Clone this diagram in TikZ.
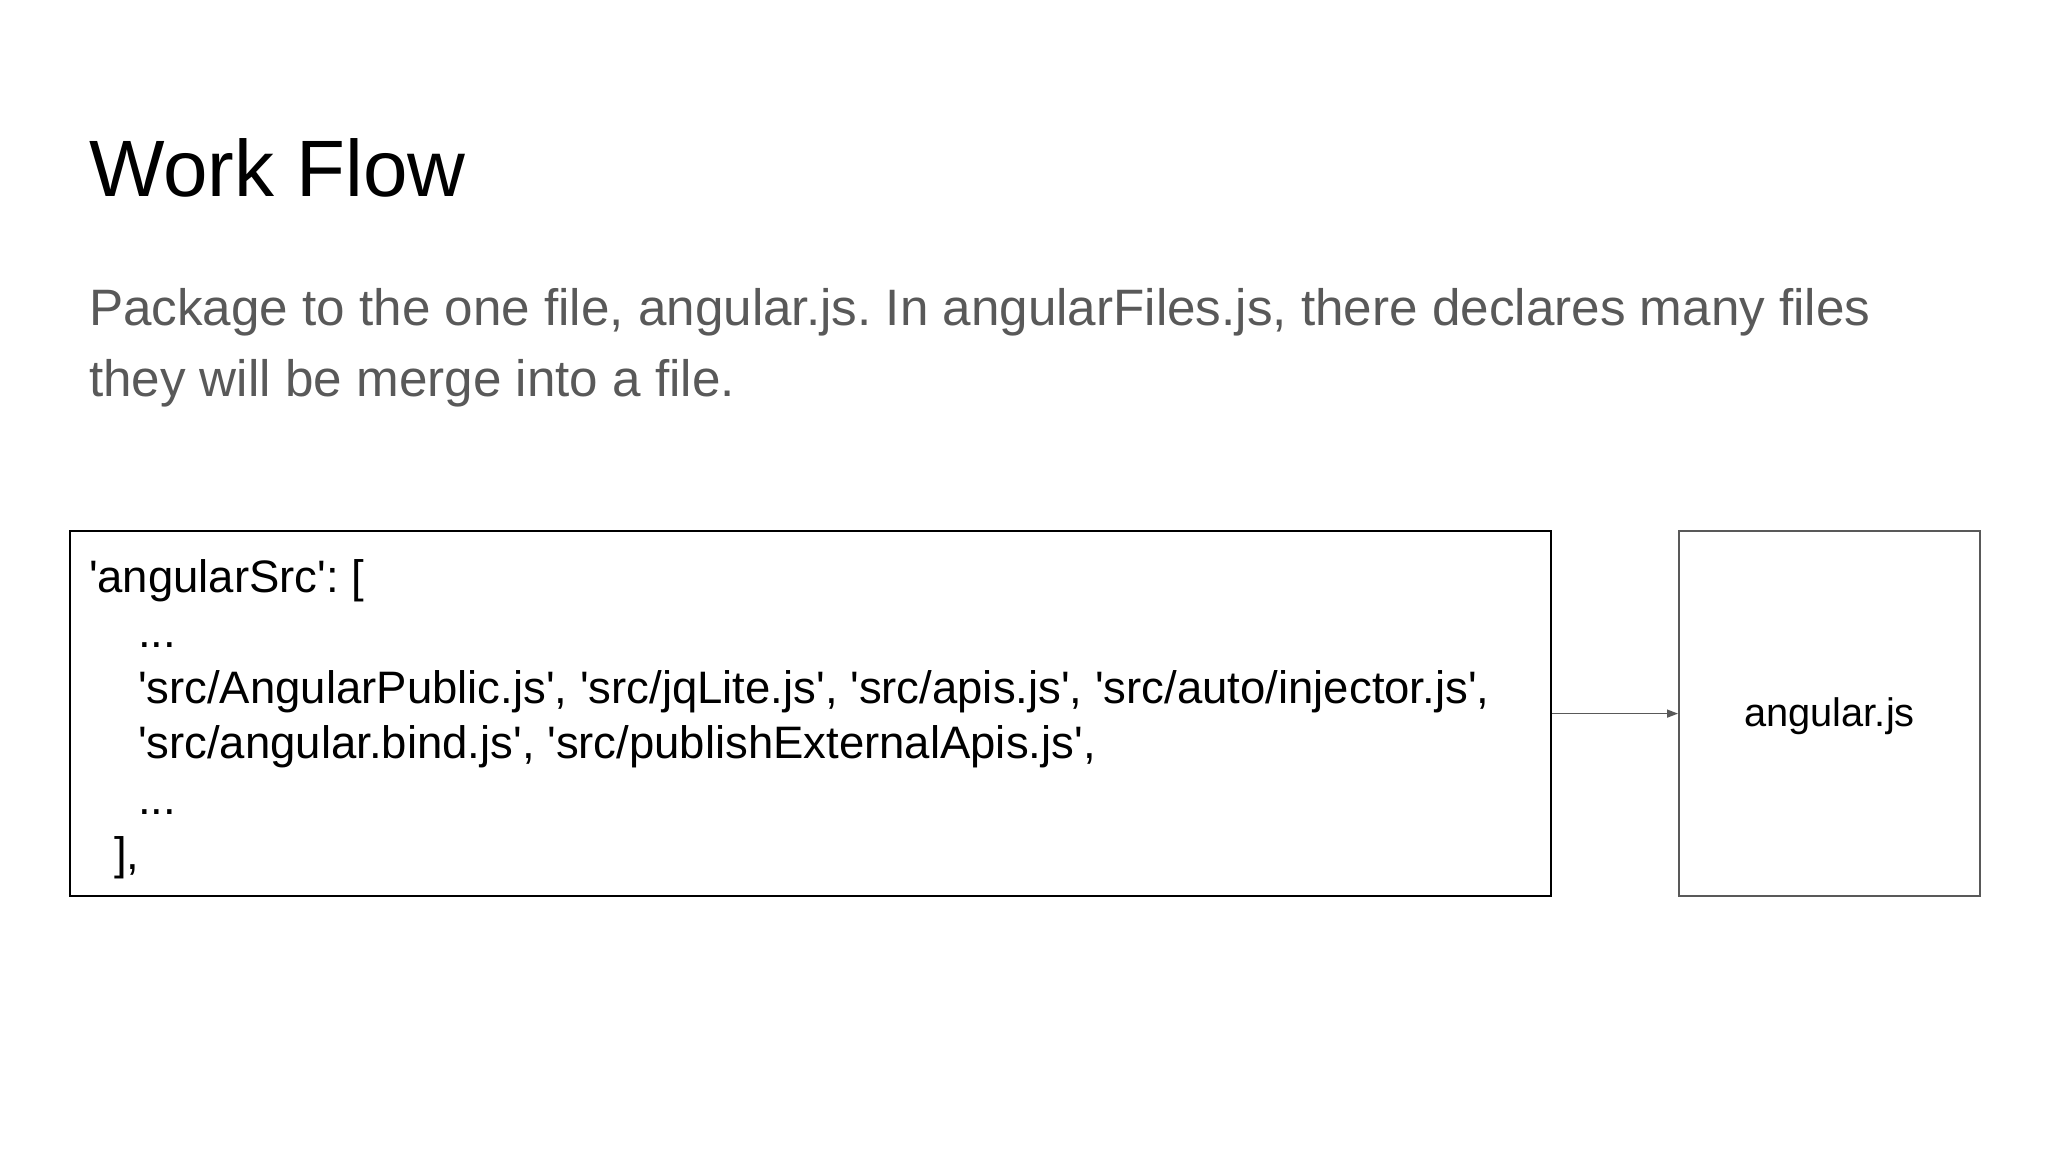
\documentclass[tikz,border=0pt]{standalone}
\usepackage{fontspec}
\setmainfont{Liberation Sans}[Ligatures=TeXOff]
\usetikzlibrary{arrows.meta}
\frenchspacing
\definecolor{bodygray}{HTML}{595959}
\definecolor{linegray}{HTML}{595959}
\tikzset{
  txt/.style={anchor=base west, inner sep=0pt, outer sep=0pt},
  codeline/.style={txt, font=\fontsize{45.5}{55.5}\selectfont},
  framebox/.style={draw=black, line width=2.2pt, inner sep=0pt},
  outbox/.style={draw=linegray, line width=2.2pt, inner sep=0pt},
  outlabel/.style={inner sep=0pt, font=\fontsize{39.8}{48}\selectfont},
  flow/.style={draw=linegray, line width=1.5pt, -{Triangle[length=11pt,width=8pt]}}
}
\begin{document}
\frenchspacing
\begin{tikzpicture}[x=1pt,y=-1pt]
\useasboundingbox[fill=white] (0,0) rectangle (2048,1152);
\node[txt, font=\fontsize{80}{96}\selectfont] (title) at (89,196) {Work Flow};
\node[txt, text=bodygray, font=\fontsize{51.2}{71}\selectfont] (body1) at (89,325) {Package to the one file, angular.js. In angularFiles.js, there declares many files};
\node[txt, text=bodygray, font=\fontsize{51.2}{71}\selectfont] (body2) at (89,396) {they will be merge into a file.};
\node[framebox, minimum width=1481pt, minimum height=365pt, anchor=north west] (src) at (69,530) {};
\node[codeline] (l1) at (89,592) {'angularSrc': [};
\node[codeline] (l2) at (138,647.5) {...};
\node[codeline] (l3) at (138,703) {'src/AngularPublic.js', 'src/jqLite.js', 'src/apis.js', 'src/auto/injector.js',};
\node[codeline] (l4) at (138,758.5) {'src/angular.bind.js', 'src/publishExternalApis.js',};
\node[codeline] (l5) at (138,814) {...};
\node[codeline] (l6) at (114,869.5) {],};
\node[outbox, minimum width=301pt, minimum height=365pt, anchor=north west] (out) at (1678,530) {};
\node[outlabel] (outtext) at ([yshift=-3pt]out.center) {angular.js};
\draw[flow] (src.east) -- (out.west);
\end{tikzpicture}
\end{document}
